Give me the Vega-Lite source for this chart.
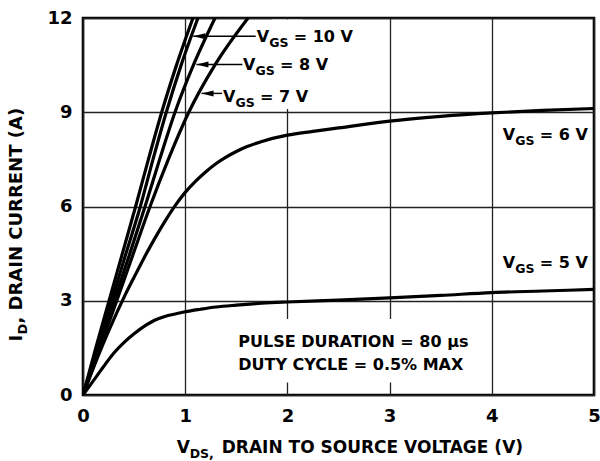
{
  "$schema": "https://vega.github.io/schema/vega-lite/v6.json",
  "width": 511,
  "height": 377,
  "autosize": "none",
  "padding": {"left": 83, "top": 18, "right": 6, "bottom": 66},
  "background": "white",
  "config": {
    "view": {"stroke": "black", "strokeWidth": 2.6},
    "axis": {
      "grid": true,
      "gridColor": "#222222",
      "gridWidth": 1.3,
      "gridOpacity": 1,
      "domain": false,
      "ticks": false,
      "labelFlush": false,
      "labelFont": "DejaVu Sans",
      "labelFontWeight": "bold",
      "labelFontSize": 18,
      "labelColor": "black",
      "title": null
    },
    "text": {"font": "DejaVu Sans", "fontWeight": "bold", "color": "black", "align": "left", "baseline": "alphabetic"}
  },
  "datasets": {
    "curves": [
      {"series": "10", "v": 0, "i": 0}, {"series": "10", "v": 0.125, "i": 1.5}, {"series": "10", "v": 0.255, "i": 3}, {"series": "10", "v": 0.385, "i": 4.5}, {"series": "10", "v": 0.515, "i": 6}, {"series": "10", "v": 0.64, "i": 7.5}, {"series": "10", "v": 0.77, "i": 9}, {"series": "10", "v": 0.915, "i": 10.5}, {"series": "10", "v": 1.076, "i": 12},
      {"series": "9", "v": 0, "i": 0}, {"series": "9", "v": 0.14, "i": 1.5}, {"series": "9", "v": 0.28, "i": 3}, {"series": "9", "v": 0.42, "i": 4.5}, {"series": "9", "v": 0.561, "i": 6}, {"series": "9", "v": 0.685, "i": 7.5}, {"series": "9", "v": 0.815, "i": 9}, {"series": "9", "v": 0.96, "i": 10.5}, {"series": "9", "v": 1.125, "i": 12},
      {"series": "8", "v": 0, "i": 0}, {"series": "8", "v": 0.152, "i": 1.5}, {"series": "8", "v": 0.305, "i": 3}, {"series": "8", "v": 0.458, "i": 4.5}, {"series": "8", "v": 0.607, "i": 6}, {"series": "8", "v": 0.75, "i": 7.5}, {"series": "8", "v": 0.9, "i": 9}, {"series": "8", "v": 1.08, "i": 10.5}, {"series": "8", "v": 1.292, "i": 12},
      {"series": "7", "v": 0, "i": 0}, {"series": "7", "v": 0.165, "i": 1.5}, {"series": "7", "v": 0.33, "i": 3}, {"series": "7", "v": 0.492, "i": 4.5}, {"series": "7", "v": 0.656, "i": 6}, {"series": "7", "v": 0.835, "i": 7.5}, {"series": "7", "v": 1.035, "i": 9}, {"series": "7", "v": 1.29, "i": 10.5}, {"series": "7", "v": 1.615, "i": 12},
      {"series": "6", "v": 0, "i": 0}, {"series": "6", "v": 0.1, "i": 0.85}, {"series": "6", "v": 0.2, "i": 1.65}, {"series": "6", "v": 0.3, "i": 2.4}, {"series": "6", "v": 0.4, "i": 3.1}, {"series": "6", "v": 0.5, "i": 3.75}, {"series": "6", "v": 0.6, "i": 4.38}, {"series": "6", "v": 0.7, "i": 4.97}, {"series": "6", "v": 0.8, "i": 5.52}, {"series": "6", "v": 0.9, "i": 6.02}, {"series": "6", "v": 1.0, "i": 6.45}, {"series": "6", "v": 1.1, "i": 6.8}, {"series": "6", "v": 1.2, "i": 7.1}, {"series": "6", "v": 1.3, "i": 7.36}, {"series": "6", "v": 1.4, "i": 7.57}, {"series": "6", "v": 1.5, "i": 7.75}, {"series": "6", "v": 1.6, "i": 7.9}, {"series": "6", "v": 1.75, "i": 8.07}, {"series": "6", "v": 2.0, "i": 8.27}, {"series": "6", "v": 2.25, "i": 8.39}, {"series": "6", "v": 2.5, "i": 8.5}, {"series": "6", "v": 3.0, "i": 8.72}, {"series": "6", "v": 3.5, "i": 8.87}, {"series": "6", "v": 4.0, "i": 8.98}, {"series": "6", "v": 4.5, "i": 9.06}, {"series": "6", "v": 5.0, "i": 9.12},
      {"series": "5", "v": 0, "i": 0}, {"series": "5", "v": 0.067, "i": 0.3}, {"series": "5", "v": 0.134, "i": 0.6}, {"series": "5", "v": 0.2, "i": 0.9}, {"series": "5", "v": 0.3, "i": 1.33}, {"series": "5", "v": 0.4, "i": 1.67}, {"series": "5", "v": 0.5, "i": 1.95}, {"series": "5", "v": 0.62, "i": 2.23}, {"series": "5", "v": 0.7, "i": 2.38}, {"series": "5", "v": 0.8, "i": 2.5}, {"series": "5", "v": 0.9, "i": 2.58}, {"series": "5", "v": 1.0, "i": 2.65}, {"series": "5", "v": 1.15, "i": 2.73}, {"series": "5", "v": 1.3, "i": 2.8}, {"series": "5", "v": 1.5, "i": 2.86}, {"series": "5", "v": 1.75, "i": 2.92}, {"series": "5", "v": 2.0, "i": 2.96}, {"series": "5", "v": 2.5, "i": 3.02}, {"series": "5", "v": 3.0, "i": 3.09}, {"series": "5", "v": 3.5, "i": 3.17}, {"series": "5", "v": 4.0, "i": 3.26}, {"series": "5", "v": 4.5, "i": 3.31}, {"series": "5", "v": 5.0, "i": 3.36}
    ],
    "masks": [
      {"v": 1.85, "v2": 2.15, "i": 9.1, "i2": 11.95},
      {"v": 1.45, "v2": 3.25, "i": 0.4, "i2": 2.42}
    ],
    "labels": [
      {"a": "V", "b": "GS", "c": "= 10 V", "v": 1.70, "i": 11.24},
      {"a": "V", "b": "GS", "c": "= 8 V", "v": 1.566, "i": 10.34},
      {"a": "V", "b": "GS", "c": "= 7 V", "v": 1.37, "i": 9.33},
      {"a": "V", "b": "GS", "c": "= 6 V", "v": 4.107, "i": 8.12},
      {"a": "V", "b": "GS", "c": "= 5 V", "v": 4.107, "i": 4.03}
    ],
    "leaders": [
      {"v": 1.079, "v2": 1.69, "i": 11.42},
      {"v": 1.11, "v2": 1.56, "i": 10.52},
      {"v": 1.16, "v2": 1.36, "i": 9.6}
    ],
    "notes": [
      {"t": "PULSE DURATION = 80 µs", "v": 1.519, "i": 1.537},
      {"t": "DUTY CYCLE = 0.5% MAX", "v": 1.519, "i": 0.796}
    ],
    "xtitle": [{"a": "V", "b": "DS,", "c": "DRAIN TO SOURCE VOLTAGE (V)", "v": 0.917, "i": -1.856}],
    "ytitle": [{"a": "I", "b": "D", "c": ", DRAIN CURRENT (A)", "v": -0.597, "i": 1.7}]
  },
  "encoding": {
    "x": {"field": "v", "type": "quantitative", "scale": {"domain": [0, 5], "nice": false}, "axis": {"values": [0, 1, 2, 3, 4, 5], "labelPadding": 12}},
    "y": {"field": "i", "type": "quantitative", "scale": {"domain": [0, 12], "nice": false}, "axis": {"values": [0, 3, 6, 9, 12], "labelPadding": 11}}
  },
  "layer": [
    {
      "data": {"name": "masks"},
      "mark": {"type": "rect", "color": "white", "opacity": 1},
      "encoding": {"x2": {"field": "v2"}, "y2": {"field": "i2"}}
    },
    {
      "data": {"name": "curves"},
      "mark": {"type": "line", "color": "black", "strokeWidth": 3.2, "interpolate": "monotone", "clip": true},
      "encoding": {"detail": {"field": "series"}}
    },
    {
      "data": {"name": "leaders"},
      "mark": {"type": "rule", "color": "black", "strokeWidth": 1.4},
      "encoding": {"x2": {"field": "v2"}}
    },
    {
      "data": {"name": "leaders"},
      "mark": {"type": "point", "shape": "M0,0L2,-0.5L2,0.5Z", "size": 144, "filled": true, "color": "black", "opacity": 1, "strokeWidth": 0}
    },
    {
      "data": {"name": "labels"},
      "mark": {"type": "text", "fontSize": 16},
      "encoding": {"text": {"field": "a"}}
    },
    {
      "data": {"name": "labels"},
      "mark": {"type": "text", "fontSize": 12.5, "dx": 12.5, "dy": 5},
      "encoding": {"text": {"field": "b"}}
    },
    {
      "data": {"name": "labels"},
      "mark": {"type": "text", "fontSize": 16, "dx": 37},
      "encoding": {"text": {"field": "c"}}
    },
    {
      "data": {"name": "notes"},
      "mark": {"type": "text", "fontSize": 16},
      "encoding": {"text": {"field": "t"}}
    },
    {
      "data": {"name": "xtitle"},
      "mark": {"type": "text", "fontSize": 17},
      "encoding": {"text": {"field": "a"}}
    },
    {
      "data": {"name": "xtitle"},
      "mark": {"type": "text", "fontSize": 12.5, "dx": 13, "dy": 5},
      "encoding": {"text": {"field": "b"}}
    },
    {
      "data": {"name": "xtitle"},
      "mark": {"type": "text", "fontSize": 17, "dx": 45},
      "encoding": {"text": {"field": "c"}}
    },
    {
      "data": {"name": "ytitle"},
      "mark": {"type": "text", "fontSize": 18, "angle": 270},
      "encoding": {"text": {"field": "a"}}
    },
    {
      "data": {"name": "ytitle"},
      "mark": {"type": "text", "fontSize": 13, "angle": 270, "dx": 7, "dy": 5},
      "encoding": {"text": {"field": "b"}}
    },
    {
      "data": {"name": "ytitle"},
      "mark": {"type": "text", "fontSize": 18, "angle": 270, "dx": 18},
      "encoding": {"text": {"field": "c"}}
    }
  ]
}
